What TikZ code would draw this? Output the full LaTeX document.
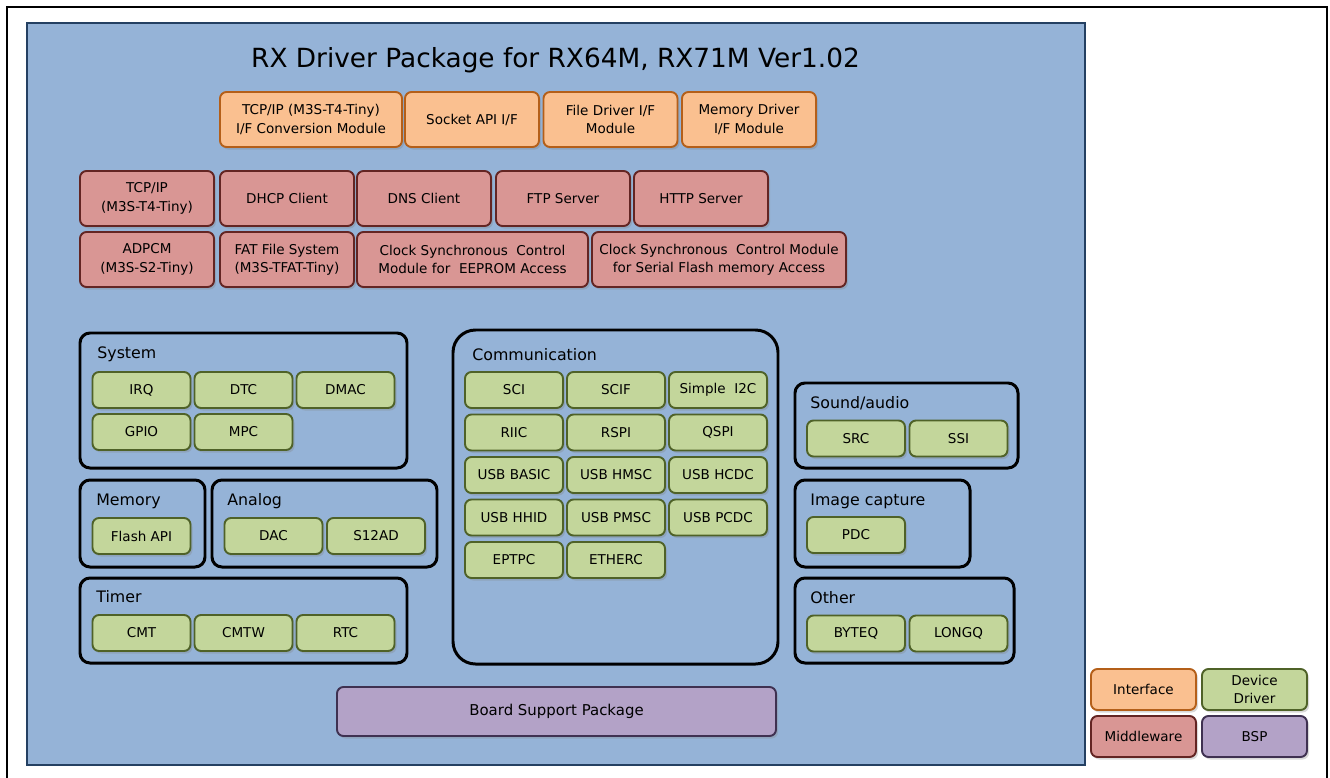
\documentclass[tikz,border=0pt]{standalone}
\usepackage{fontspec}
\setmainfont{DejaVu Sans}
\usepackage{tikz}
\usetikzlibrary{positioning, shadows}
\definecolor{panelblue}{RGB}{149,179,215}
\definecolor{paneledge}{RGB}{36,64,98}
\definecolor{ifacefill}{RGB}{250,192,144}
\definecolor{ifaceedge}{RGB}{180,95,25}
\definecolor{mwfill}{RGB}{217,150,148}
\definecolor{mwedge}{RGB}{99,37,35}
\definecolor{ddfill}{RGB}{195,214,155}
\definecolor{ddedge}{RGB}{79,98,40}
\definecolor{bspfill}{RGB}{179,162,199}
\definecolor{bspedge}{RGB}{63,49,81}

\begin{document}
\begin{tikzpicture}[x=0.02cm, y=-0.02cm,
    sz/.style 2 args={minimum width=#1*0.02cm, minimum height=#2*0.02cm},
    blk/.style={draw, rounded corners=0.13cm, line width=1.1pt, inner sep=1pt, align=center,
        font=\fontsize{7.7}{10.5}\selectfont,
        drop shadow={opacity=0.3, shadow xshift=0.04cm, shadow yshift=-0.05cm}},
    iface/.style={blk, fill=ifacefill, draw=ifaceedge, sz={134}{55}},
    mw/.style={blk, fill=mwfill, draw=mwedge, sz={134}{55}},
    dd/.style={blk, fill=ddfill, draw=ddedge, sz={98}{36}},
    bsp/.style={blk, fill=bspfill, draw=bspedge},
    grp/.style={draw=black, line width=1.7pt, rounded corners=0.2cm, inner sep=0pt},
    grplbl/.style={anchor=west, inner sep=0pt, font=\fontsize{9}{11}\selectfont},
    legend/.style={sz={105}{41}}]
    \useasboundingbox (0,0) rectangle (1330,778);
    \draw[line width=1.2pt] (7,800) -- (7,7) -- (1327,7) -- (1327,800);
    \node[draw=paneledge, fill=panelblue, line width=1.2pt, sz={1058}{742}, inner sep=0pt] at (556,394) (panel) {};
    \node[anchor=base, inner sep=0pt, font=\fontsize{15}{18}\selectfont] at (555.5,67) (title) {RX Driver Package for RX64M, RX71M Ver1.02};

    % interface
    \node[iface, sz={182}{55}] at (311,119.5) (tcpconv) {TCP/IP (M3S-T4-Tiny)\\I/F Conversion Module};
    \node[iface] at (472,119.5) (sockapi) {Socket API I/F};
    \node[iface] at (610.5,119.5) (filedrv) {File Driver I/F\\Module};
    \node[iface] at (749,119.5) (memdrv) {Memory Driver\\I/F Module};

    % middleware
    \node[mw] at (147,198.5) (tcpip) {TCP/IP\\(M3S-T4-Tiny)};
    \node[mw] at (287,198.5) (dhcp) {DHCP Client};
    \node[mw] at (424,198.5) (dns) {DNS Client};
    \node[mw] at (563,198.5) (ftp) {FTP Server};
    \node[mw] at (701,198.5) (http) {HTTP Server};
    \node[mw] at (147,259.5) (adpcm) {ADPCM\\(M3S-S2-Tiny)};
    \node[mw] at (287,259.5) (fat) {FAT File System\\(M3S-TFAT-Tiny)};
    \node[mw, sz={231}{55}] at (472.5,259.5) (clkeep) {Clock Synchronous\ \ Control\\Module for\ \ EEPROM Access};
    \node[mw, sz={254}{55}] at (719,259.5) (clkflash) {Clock Synchronous\ \ Control Module\\for Serial Flash memory Access};

    % groups
    \node[grp, sz={327}{135}] at (243.5,400.5) (system) {};
    \node[grp, sz={125}{87}] at (142.5,523.5) (memory) {};
    \node[grp, sz={225}{87}] at (324.5,523.5) (analog) {};
    \node[grp, sz={327}{85}] at (243.5,620.5) (timer) {};
    \node[grp, sz={325}{334}, rounded corners=0.45cm] at (615.5,497) (comm) {};
    \node[grp, sz={223}{85}] at (906.5,425.5) (sound) {};
    \node[grp, sz={175}{87}] at (882.5,523.5) (image) {};
    \node[grp, sz={219}{85}] at (904.5,620.5) (other) {};
    \node[grplbl] at (97,354) (systemlbl) {System};
    \node[grplbl] at (96,501) (memorylbl) {Memory};
    \node[grplbl] at (227,501) (analoglbl) {Analog};
    \node[grplbl] at (96,597) (timerlbl) {Timer};
    \node[grplbl] at (472,355) (commlbl) {Communication};
    \node[grplbl] at (810,403) (soundlbl) {Sound/audio};
    \node[grplbl] at (810,501) (imagelbl) {Image capture};
    \node[grplbl] at (810,598) (otherlbl) {Other};

    % device drivers
    \node[dd] at (141.5,390) (irq) {IRQ};
    \node[dd] at (243.5,390) (dtc) {DTC};
    \node[dd] at (345.5,390) (dmac) {DMAC};
    \node[dd] at (141.5,432) (gpio) {GPIO};
    \node[dd] at (243.5,432) (mpc) {MPC};
    \node[dd] at (141.5,536) (flash) {Flash API};
    \node[dd] at (273.5,536) (dac) {DAC};
    \node[dd] at (376,536) (s12ad) {S12AD};
    \node[dd] at (141.5,633) (cmt) {CMT};
    \node[dd] at (243.5,633) (cmtw) {CMTW};
    \node[dd] at (345.5,633) (rtc) {RTC};

    \node[dd] at (514,390) (sci) {SCI};
    \node[dd] at (616,390) (scif) {SCIF};
    \node[dd] at (718,390) (i2c) {Simple\ \ I2C};
    \node[dd] at (514,432.5) (riic) {RIIC};
    \node[dd] at (616,432.5) (rspi) {RSPI};
    \node[dd] at (718,432.5) (qspi) {QSPI};
    \node[dd] at (514,475) (usbbasic) {USB BASIC};
    \node[dd] at (616,475) (usbhmsc) {USB HMSC};
    \node[dd] at (718,475) (usbhcdc) {USB HCDC};
    \node[dd] at (514,517.5) (usbhhid) {USB HHID};
    \node[dd] at (616,517.5) (usbpmsc) {USB PMSC};
    \node[dd] at (718,517.5) (usbpcdc) {USB PCDC};
    \node[dd] at (514,560) (eptpc) {EPTPC};
    \node[dd] at (616,560) (etherc) {ETHERC};

    \node[dd] at (856,438.5) (src) {SRC};
    \node[dd] at (958.5,438.5) (ssi) {SSI};
    \node[dd] at (856,535) (pdc) {PDC};
    \node[dd] at (856,633.5) (byteq) {BYTEQ};
    \node[dd] at (958.5,633.5) (longq) {LONGQ};

    % board support package
    \node[bsp, sz={439}{49}, font=\fontsize{8.5}{10}\selectfont] at (556.5,711.5) (board) {Board Support Package};

    % legend
    \node[iface, legend] at (1143.5,689.5) (lgiface) {Interface};
    \node[dd, legend] at (1254.5,689.5) (lgdd) {Device\\Driver};
    \node[mw, legend] at (1143.5,736.5) (lgmw) {Middleware};
    \node[bsp, legend] at (1254.5,736.5) (lgbsp) {BSP};
\end{tikzpicture}
\end{document}
